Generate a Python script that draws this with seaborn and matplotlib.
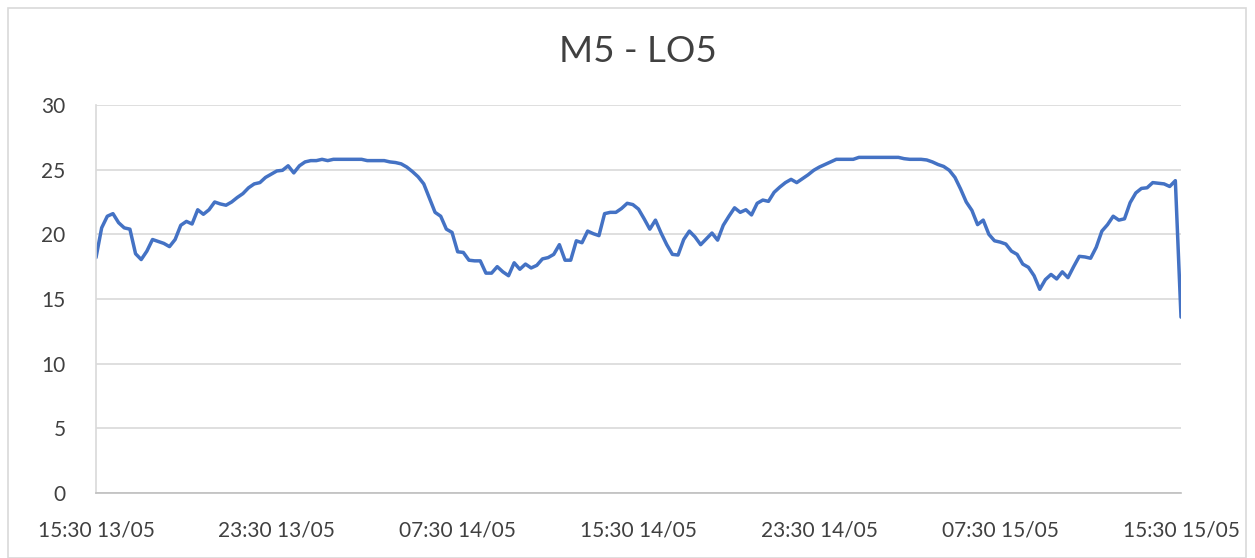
import pandas as pd
import matplotlib
matplotlib.use("Agg")
import matplotlib.pyplot as plt
from matplotlib.patches import Rectangle
import seaborn as sns

# leituras a cada 15 min, de 15:30 13/05 até 15:30 15/05
inicio = "2024-05-13 15:30"
temperatura = [
    18.2, 20.5, 21.4, 21.6, 20.9, 20.5, 20.4, 18.5, 18.05, 18.7,
    19.6, 19.45, 19.3, 19.05, 19.6, 20.7, 21.0, 20.8, 21.9, 21.55,
    21.9, 22.5, 22.35, 22.25, 22.5, 22.85, 23.15, 23.6, 23.9, 24.0,
    24.4, 24.65, 24.9, 24.95, 25.3, 24.75, 25.3, 25.6, 25.7, 25.7,
    25.8, 25.7, 25.8, 25.8, 25.8, 25.8, 25.8, 25.8, 25.7, 25.7,
    25.7, 25.7, 25.6, 25.55, 25.45, 25.2, 24.85, 24.45, 23.9, 22.8,
    21.7, 21.4, 20.4, 20.15, 18.65, 18.6, 18.0, 17.95, 17.95, 17.0,
    17.0, 17.5, 17.1, 16.8, 17.8, 17.3, 17.7, 17.4, 17.6, 18.1,
    18.2, 18.45, 19.2, 18.0, 18.0, 19.5, 19.35, 20.25, 20.05, 19.9,
    21.6, 21.7, 21.7, 22.0, 22.4, 22.3, 21.95, 21.2, 20.4, 21.1,
    20.1, 19.2, 18.45, 18.4, 19.6, 20.25, 19.8, 19.2, 19.65, 20.1,
    19.55, 20.7, 21.4, 22.05, 21.7, 21.9, 21.5, 22.4, 22.65, 22.55,
    23.25, 23.65, 24.0, 24.25, 24.0, 24.3, 24.6, 24.95, 25.2, 25.4,
    25.6, 25.8, 25.8, 25.8, 25.8, 25.95, 25.95, 25.95, 25.95, 25.95,
    25.95, 25.95, 25.95, 25.85, 25.8, 25.8, 25.8, 25.75, 25.6, 25.4,
    25.25, 24.95, 24.4, 23.5, 22.5, 21.85, 20.75, 21.1, 20.0, 19.5,
    19.4, 19.25, 18.7, 18.45, 17.7, 17.45, 16.8, 15.75, 16.5, 16.9,
    16.55, 17.1, 16.65, 17.5, 18.3, 18.25, 18.15, 19.0, 20.25, 20.75,
    21.4, 21.1, 21.2, 22.45, 23.2, 23.55, 23.6, 24.0, 23.95, 23.9,
    23.7, 24.15, 13.6,
]
y_ticks = [0, 5, 10, 15, 20, 25, 30]
titulo = "M5 - LO5"

df = pd.DataFrame({
    "hora": pd.date_range(inicio, periods=len(temperatura), freq="15min"),
    "temp": temperatura,
})

sns.set_style("white")
plt.rcParams["font.family"] = ["Lato", "DejaVu Sans"]

fig = plt.figure(figsize=(12.55, 5.58), dpi=100)
ax = fig.add_axes([96 / 1255, 65 / 558, 1085 / 1255, 388 / 558])

sns.lineplot(data=df, x="hora", y="temp", ax=ax, color="#4472C4", linewidth=2.5)

ax.set_ylim(0, 30)
ax.set_yticks(y_ticks)
ax.set_xlim(df["hora"].iloc[0], df["hora"].iloc[-1])
# ticks a cada 8 horas
ticks = pd.date_range(inicio, periods=7, freq="8h")
ax.set_xticks(ticks)
ax.set_xticklabels([t.strftime("%H:%M %d/%m") for t in ticks])

ax.set_xlabel("")
ax.set_ylabel("")
ax.grid(axis="y", color="#D9D9D9", linewidth=1.2)
ax.set_axisbelow(True)
for lado in ["top", "right"]:
    ax.spines[lado].set_visible(False)
ax.spines["left"].set_color("#D9D9D9")
ax.spines["bottom"].set_color("#BFBFBF")
ax.spines["left"].set_linewidth(1.2)
ax.spines["bottom"].set_linewidth(1.2)
ax.tick_params(axis="both", length=0, labelsize=15, colors="#404040")
ax.tick_params(axis="y", pad=22)
ax.tick_params(axis="x", pad=20)

fig.text(638 / 1255, 1 - 52 / 558, titulo, ha="center", va="center",
         fontsize=26.5, color="#404040")

# borda do grafico
fig.patches.append(Rectangle((8 / 1255, 0), 1238 / 1255, 550 / 558,
                             transform=fig.transFigure, fill=False,
                             edgecolor="#D9D9D9", linewidth=1.2))

fig.savefig("out.png", dpi=100, facecolor="white")
